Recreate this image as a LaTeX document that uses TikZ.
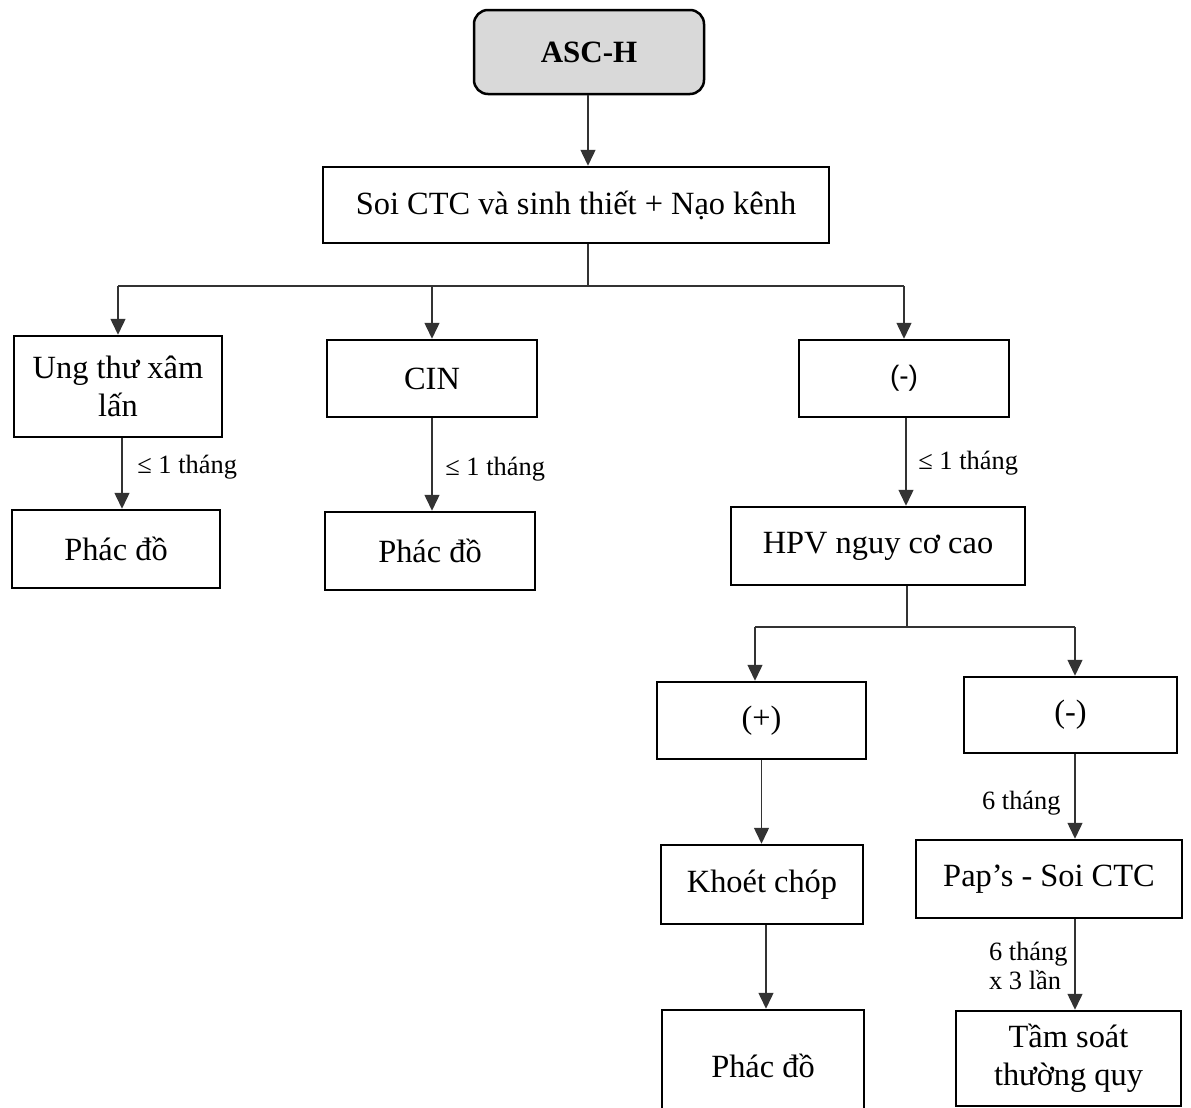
\documentclass[tikz,border=0pt]{standalone}
\usepackage{fontspec}
\setmainfont{Liberation Serif}
\newfontfamily\arialfont{Liberation Sans}
\usetikzlibrary{arrows.meta,calc}

\tikzset{
  box/.style={draw=black, line width=1.25pt, fill=white, align=center,
    inner sep=2pt, font=\fontsize{16.2}{19}\selectfont},
  startbox/.style={box, fill=black!15, rounded corners=7pt,
    font=\fontsize{15.5}{18}\selectfont\bfseries},
  link/.style={draw=black!80, line width=0.75pt},
  arr/.style={link, -{Triangle[width=7.5pt,length=8pt]}},
  lbl/.style={inner sep=0pt, align=left, font=\fontsize{13.2}{14.5}\selectfont}
}

\begin{document}
\begin{tikzpicture}[x=0.5pt, y=-0.5pt]
  \useasboundingbox (0,0) rectangle (1191,1108);
  \clip (0,0) rectangle (1191,1108);

  % boxes
  \node[startbox, minimum width=115pt, minimum height=42pt] (asc) at (589,52) {ASC-H};
  \node[box, minimum width=253pt, minimum height=38pt] (soi) at (576,205) {Soi CTC và sinh thiết + Nạo kênh};

  \node[box, minimum width=104pt, minimum height=50.5pt] (ung) at (118,386.5) {Ung thư xâm\\lấn};
  \node[box, minimum width=105pt, minimum height=38.5pt] (cin) at (432,378.5) {CIN};
  \node[box, minimum width=105pt, minimum height=38.5pt, font=\arialfont\fontsize{14}{16}\selectfont] (neg1) at (904,378.5) {(-)};

  \node[box, minimum width=104pt, minimum height=39pt] (pd1) at (116,549) {Phác đồ};
  \node[box, minimum width=105pt, minimum height=39pt] (pd2) at (430,551) {Phác đồ};
  \node[box, minimum width=147pt, minimum height=39pt] (hpv) at (878,546) {HPV nguy cơ cao};

  \node[box, minimum width=104.5pt, minimum height=38.5pt] (pos) at (761.5,720.5) {(+)};
  \node[box, minimum width=106.5pt, minimum height=38pt] (neg2) at (1070.5,715) {(-)};

  \node[box, minimum width=101pt, minimum height=39.5pt] (khoet) at (762,884.5) {Khoét chóp};
  \node[box, minimum width=133pt, minimum height=39pt] (pap) at (1049,879) {Pap’s - Soi CTC};

  \node[box, minimum width=101pt, minimum height=56pt] (pd3) at (763,1066) {Phác đồ};
  \node[box, minimum width=112.5pt, minimum height=47.5pt] (tam) at (1068.5,1058.5) {Tầm soát\\thường quy};

  % branch points
  \coordinate (split1) at (588,286);
  \coordinate (split2) at (907,627);

  % ASC-H to the first step
  \draw[arr] (asc.south -| split1) -- (soi.north -| split1);

  % first branching
  \draw[link] (soi.south -| split1) -- (split1);
  \draw[link] (split1 -| ung.north) -- (split1 -| neg1.north);
  \draw[arr] (split1 -| ung.north) -- (ung.north);
  \draw[arr] (split1 -| cin.north) -- (cin.north);
  \draw[arr] (split1 -| neg1.north) -- (neg1.north);

  % one month follow-ups
  \draw[arr] ($(ung.south)+(4,0)$) -- ($(ung.south |- pd1.north)+(4,0)$);
  \node[lbl, anchor=west] (l1) at (137,467) {≤ 1 tháng};
  \draw[arr] (cin.south) -- (cin.south |- pd2.north);
  \node[lbl, anchor=west] (l2) at (445,469) {≤ 1 tháng};
  \draw[arr] ($(neg1.south)+(2,0)$) -- ($(neg1.south |- hpv.north)+(2,0)$);
  \node[lbl, anchor=west] (l3) at (918,463) {≤ 1 tháng};

  % HPV branching
  \draw[link] (hpv.south -| split2) -- (split2);
  \draw[link] (split2 -| 755,0) -- (split2 -| 1075,0);
  \draw[arr] (split2 -| 755,0) -- (pos.north -| 755,0);
  \draw[arr] (split2 -| 1075,0) -- (neg2.north -| 1075,0);

  % positive branch
  \draw[arr] (pos.south) -- (pos.south |- khoet.north);
  \draw[arr] ($(khoet.south)+(4,0)$) -- ($(khoet.south |- pd3.north)+(4,0)$);

  % negative branch
  \draw[arr] (neg2.south -| 1075,0) -- (pap.north -| 1075,0);
  \node[lbl, anchor=east] (l4) at (1061,803) {6 tháng};
  \draw[arr] (pap.south -| 1075,0) -- (tam.north -| 1075,0);
  \node[lbl, anchor=east] (l5) at (1068,966) {6 tháng\\x 3 lần};
\end{tikzpicture}
\end{document}
